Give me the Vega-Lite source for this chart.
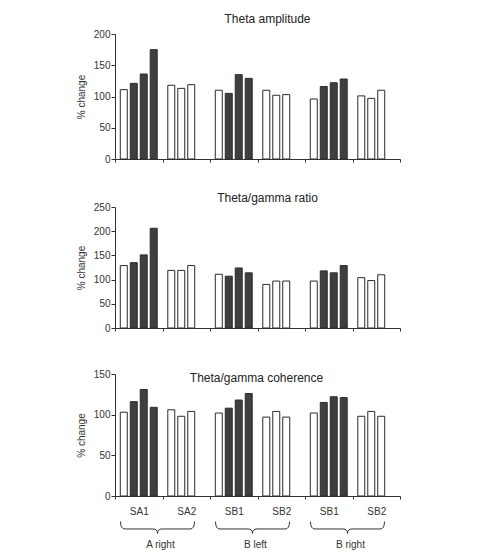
{
  "$schema": "https://vega.github.io/schema/vega-lite/v6.json",
  "background": "white",
  "padding": {"left": 76, "top": 12, "right": 4, "bottom": 0},
  "datasets": {
    "bars": [
      {"measure": "Theta amplitude", "group": "A right SA1", "slot": 1, "type": "control", "value": 111},
      {"measure": "Theta amplitude", "group": "A right SA1", "slot": 2, "type": "test", "value": 121},
      {"measure": "Theta amplitude", "group": "A right SA1", "slot": 3, "type": "test", "value": 136},
      {"measure": "Theta amplitude", "group": "A right SA1", "slot": 4, "type": "test", "value": 175},
      {"measure": "Theta amplitude", "group": "A right SA2", "slot": 1, "type": "control", "value": 118},
      {"measure": "Theta amplitude", "group": "A right SA2", "slot": 2, "type": "control", "value": 113},
      {"measure": "Theta amplitude", "group": "A right SA2", "slot": 3, "type": "control", "value": 119},
      {"measure": "Theta amplitude", "group": "B left SB1", "slot": 1, "type": "control", "value": 110},
      {"measure": "Theta amplitude", "group": "B left SB1", "slot": 2, "type": "test", "value": 105},
      {"measure": "Theta amplitude", "group": "B left SB1", "slot": 3, "type": "test", "value": 135},
      {"measure": "Theta amplitude", "group": "B left SB1", "slot": 4, "type": "test", "value": 129},
      {"measure": "Theta amplitude", "group": "B left SB2", "slot": 1, "type": "control", "value": 110},
      {"measure": "Theta amplitude", "group": "B left SB2", "slot": 2, "type": "control", "value": 102},
      {"measure": "Theta amplitude", "group": "B left SB2", "slot": 3, "type": "control", "value": 103},
      {"measure": "Theta amplitude", "group": "B right SB1", "slot": 1, "type": "control", "value": 96},
      {"measure": "Theta amplitude", "group": "B right SB1", "slot": 2, "type": "test", "value": 116},
      {"measure": "Theta amplitude", "group": "B right SB1", "slot": 3, "type": "test", "value": 122},
      {"measure": "Theta amplitude", "group": "B right SB1", "slot": 4, "type": "test", "value": 128},
      {"measure": "Theta amplitude", "group": "B right SB2", "slot": 1, "type": "control", "value": 101},
      {"measure": "Theta amplitude", "group": "B right SB2", "slot": 2, "type": "control", "value": 97},
      {"measure": "Theta amplitude", "group": "B right SB2", "slot": 3, "type": "control", "value": 110},

      {"measure": "Theta/gamma ratio", "group": "A right SA1", "slot": 1, "type": "control", "value": 129},
      {"measure": "Theta/gamma ratio", "group": "A right SA1", "slot": 2, "type": "test", "value": 135},
      {"measure": "Theta/gamma ratio", "group": "A right SA1", "slot": 3, "type": "test", "value": 151},
      {"measure": "Theta/gamma ratio", "group": "A right SA1", "slot": 4, "type": "test", "value": 206},
      {"measure": "Theta/gamma ratio", "group": "A right SA2", "slot": 1, "type": "control", "value": 119},
      {"measure": "Theta/gamma ratio", "group": "A right SA2", "slot": 2, "type": "control", "value": 119},
      {"measure": "Theta/gamma ratio", "group": "A right SA2", "slot": 3, "type": "control", "value": 129},
      {"measure": "Theta/gamma ratio", "group": "B left SB1", "slot": 1, "type": "control", "value": 111},
      {"measure": "Theta/gamma ratio", "group": "B left SB1", "slot": 2, "type": "test", "value": 107},
      {"measure": "Theta/gamma ratio", "group": "B left SB1", "slot": 3, "type": "test", "value": 124},
      {"measure": "Theta/gamma ratio", "group": "B left SB1", "slot": 4, "type": "test", "value": 114},
      {"measure": "Theta/gamma ratio", "group": "B left SB2", "slot": 1, "type": "control", "value": 90},
      {"measure": "Theta/gamma ratio", "group": "B left SB2", "slot": 2, "type": "control", "value": 97},
      {"measure": "Theta/gamma ratio", "group": "B left SB2", "slot": 3, "type": "control", "value": 97},
      {"measure": "Theta/gamma ratio", "group": "B right SB1", "slot": 1, "type": "control", "value": 97},
      {"measure": "Theta/gamma ratio", "group": "B right SB1", "slot": 2, "type": "test", "value": 118},
      {"measure": "Theta/gamma ratio", "group": "B right SB1", "slot": 3, "type": "test", "value": 114},
      {"measure": "Theta/gamma ratio", "group": "B right SB1", "slot": 4, "type": "test", "value": 129},
      {"measure": "Theta/gamma ratio", "group": "B right SB2", "slot": 1, "type": "control", "value": 104},
      {"measure": "Theta/gamma ratio", "group": "B right SB2", "slot": 2, "type": "control", "value": 98},
      {"measure": "Theta/gamma ratio", "group": "B right SB2", "slot": 3, "type": "control", "value": 110},

      {"measure": "Theta/gamma coherence", "group": "A right SA1", "slot": 1, "type": "control", "value": 103},
      {"measure": "Theta/gamma coherence", "group": "A right SA1", "slot": 2, "type": "test", "value": 116},
      {"measure": "Theta/gamma coherence", "group": "A right SA1", "slot": 3, "type": "test", "value": 131},
      {"measure": "Theta/gamma coherence", "group": "A right SA1", "slot": 4, "type": "test", "value": 109},
      {"measure": "Theta/gamma coherence", "group": "A right SA2", "slot": 1, "type": "control", "value": 106},
      {"measure": "Theta/gamma coherence", "group": "A right SA2", "slot": 2, "type": "control", "value": 98},
      {"measure": "Theta/gamma coherence", "group": "A right SA2", "slot": 3, "type": "control", "value": 104},
      {"measure": "Theta/gamma coherence", "group": "B left SB1", "slot": 1, "type": "control", "value": 102},
      {"measure": "Theta/gamma coherence", "group": "B left SB1", "slot": 2, "type": "test", "value": 108},
      {"measure": "Theta/gamma coherence", "group": "B left SB1", "slot": 3, "type": "test", "value": 118},
      {"measure": "Theta/gamma coherence", "group": "B left SB1", "slot": 4, "type": "test", "value": 126},
      {"measure": "Theta/gamma coherence", "group": "B left SB2", "slot": 1, "type": "control", "value": 97},
      {"measure": "Theta/gamma coherence", "group": "B left SB2", "slot": 2, "type": "control", "value": 104},
      {"measure": "Theta/gamma coherence", "group": "B left SB2", "slot": 3, "type": "control", "value": 97},
      {"measure": "Theta/gamma coherence", "group": "B right SB1", "slot": 1, "type": "control", "value": 102},
      {"measure": "Theta/gamma coherence", "group": "B right SB1", "slot": 2, "type": "test", "value": 115},
      {"measure": "Theta/gamma coherence", "group": "B right SB1", "slot": 3, "type": "test", "value": 122},
      {"measure": "Theta/gamma coherence", "group": "B right SB1", "slot": 4, "type": "test", "value": 121},
      {"measure": "Theta/gamma coherence", "group": "B right SB2", "slot": 1, "type": "control", "value": 98},
      {"measure": "Theta/gamma coherence", "group": "B right SB2", "slot": 2, "type": "control", "value": 104},
      {"measure": "Theta/gamma coherence", "group": "B right SB2", "slot": 3, "type": "control", "value": 98}
    ],
    "regions": [
      {"region": "A right", "boundary": "A right SA2"},
      {"region": "B left", "boundary": "B left SB2"},
      {"region": "B right", "boundary": "B right SB2"}
    ]
  },
  "config": {
    "font": "Liberation Sans",
    "view": {"stroke": null},
    "axis": {
      "grid": false,
      "domainColor": "#333333",
      "tickColor": "#333333",
      "labelColor": "#333333",
      "titleColor": "#333333",
      "labelFontSize": 10,
      "titleFontSize": 10,
      "titleFontWeight": "normal",
      "labelPadding": 1
    },
    "axisY": {"tickSize": 4, "titlePadding": 7},
    "axisX": {"tickSize": 3},
    "title": {"fontSize": 12, "fontWeight": "normal", "color": "#222222", "baseline": "alphabetic", "anchor": "middle"}
  },
  "spacing": 36,
  "vconcat": [
    {
      "spacing": 28,
      "vconcat": [
        {
          "width": 285,
          "height": 125,
          "title": {"text": "Theta amplitude", "offset": 3.5, "dx": 10},
          "data": {"name": "bars"},
          "transform": [{"filter": "datum.measure === 'Theta amplitude'"}],
          "mark": {"type": "bar", "stroke": "#2b2b2b", "strokeWidth": 1},
          "encoding": {
            "x": {"field": "group", "type": "nominal", "sort": null,
                  "scale": {"paddingInner": 0, "paddingOuter": 0},
                  "axis": {"title": null, "labels": false, "tickBand": "extent"}},
            "xOffset": {"field": "slot", "type": "ordinal",
                        "scale": {"domain": [1, 2, 3, 4], "paddingInner": 0.3, "paddingOuter": 0.53}},
            "y": {"field": "value", "type": "quantitative",
                  "scale": {"domain": [0, 200], "nice": false},
                  "axis": {"values": [0, 50, 100, 150, 200], "title": "% change"}},
            "fill": {"field": "type", "type": "nominal",
                     "scale": {"domain": ["control", "test"], "range": ["#ffffff", "#3c413e"]},
                     "legend": null}
          }
        },
        {
          "width": 285,
          "height": 121,
          "title": {"text": "Theta/gamma ratio", "offset": -3, "dx": 10},
          "data": {"name": "bars"},
          "transform": [{"filter": "datum.measure === 'Theta/gamma ratio'"}],
          "mark": {"type": "bar", "stroke": "#2b2b2b", "strokeWidth": 1},
          "encoding": {
            "x": {"field": "group", "type": "nominal", "sort": null,
                  "scale": {"paddingInner": 0, "paddingOuter": 0},
                  "axis": {"title": null, "labels": false, "tickBand": "extent"}},
            "xOffset": {"field": "slot", "type": "ordinal",
                        "scale": {"domain": [1, 2, 3, 4], "paddingInner": 0.3, "paddingOuter": 0.53}},
            "y": {"field": "value", "type": "quantitative",
                  "scale": {"domain": [0, 250], "nice": false},
                  "axis": {"values": [0, 50, 100, 150, 200, 250], "title": "% change"}},
            "fill": {"field": "type", "type": "nominal",
                     "scale": {"domain": ["control", "test"], "range": ["#ffffff", "#3c413e"]},
                     "legend": null}
          }
        }
      ]
    },
    {
      "width": 285,
      "height": 122,
      "title": {"text": "Theta/gamma coherence", "offset": -16, "dx": -1},
      "layer": [
        {
          "data": {"name": "bars"},
          "transform": [{"filter": "datum.measure === 'Theta/gamma coherence'"}],
          "mark": {"type": "bar", "stroke": "#2b2b2b", "strokeWidth": 1},
          "encoding": {
            "x": {"field": "group", "type": "nominal", "sort": null,
                  "scale": {"paddingInner": 0, "paddingOuter": 0},
                  "axis": {"title": null, "tickBand": "extent", "labelPadding": 7, "labelAngle": 0,
                           "labelExpr": "datum.value ? peek(split(datum.value, ' ')) : ''"}},
            "xOffset": {"field": "slot", "type": "ordinal",
                        "scale": {"domain": [1, 2, 3, 4], "paddingInner": 0.3, "paddingOuter": 0.53}},
            "y": {"field": "value", "type": "quantitative",
                  "scale": {"domain": [0, 150], "nice": false},
                  "axis": {"values": [0, 50, 100, 150], "title": "% change"}},
            "fill": {"field": "type", "type": "nominal",
                     "scale": {"domain": ["control", "test"], "range": ["#ffffff", "#3c413e"]},
                     "legend": null}
          }
        },
        {
          "data": {"name": "regions"},
          "mark": {
            "type": "point",
            "shape": "M -1 -0.16 Q -1 0.04 -0.88 0.04 L -0.12 0.04 Q 0 0.04 0 0.16 Q 0 0.04 0.12 0.04 L 0.88 0.04 Q 1 0.04 1 -0.16",
            "size": 5476,
            "filled": false,
            "opacity": 1,
            "stroke": "#333333",
            "strokeWidth": 1,
            "xOffset": -5,
            "yOffset": 31.5
          },
          "encoding": {
            "x": {"field": "boundary", "type": "nominal", "bandPosition": 0},
            "y": {"datum": 0}
          }
        },
        {
          "data": {"name": "regions"},
          "mark": {"type": "text", "fontSize": 10, "color": "#333333", "baseline": "alphabetic", "dy": 52, "dx": -2},
          "encoding": {
            "x": {"field": "boundary", "type": "nominal", "bandPosition": 0},
            "y": {"datum": 0},
            "text": {"field": "region"}
          }
        }
      ]
    }
  ]
}
